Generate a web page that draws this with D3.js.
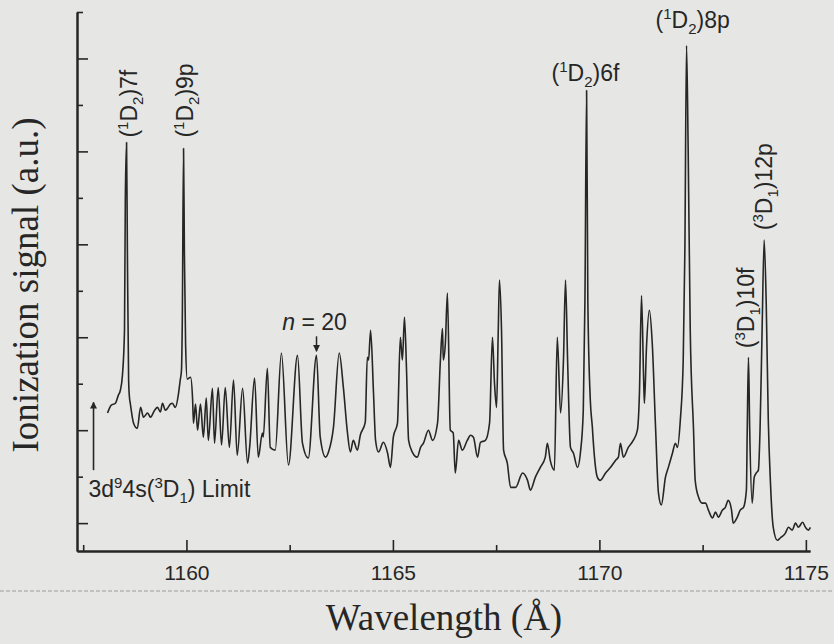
<!DOCTYPE html>
<html>
<head>
<meta charset="utf-8">
<script src="https://cdn.jsdelivr.net/npm/d3@7"></script>
<style>
  body { margin: 0; background: #e6e6e4; }
  svg { display: block; }
</style>
</head>
<body>
<div id="cht_Spectrum"></div>
<script>
// spectrum: wavelength (Å) and ionization signal (a.u.)
const wavelength = [
  1158.09, 1158.18, 1158.28, 1158.35, 1158.40, 1158.45, 1158.50, 1158.52, 1158.55, 1158.57,
  1158.60, 1158.62, 1158.64, 1158.72, 1158.81, 1158.89, 1158.96, 1159.06, 1159.13, 1159.23,
  1159.30, 1159.37, 1159.42, 1159.49, 1159.54, 1159.61, 1159.66, 1159.73, 1159.81, 1159.85,
  1159.88, 1159.90, 1159.93, 1159.95, 1159.98, 1160.02, 1160.10, 1160.15, 1160.17, 1160.22,
  1160.27, 1160.34, 1160.41, 1160.48, 1160.53, 1160.63, 1160.68, 1160.77, 1160.85, 1160.94,
  1161.04, 1161.14, 1161.23, 1161.36, 1161.48, 1161.53, 1161.65, 1161.74, 1161.84, 1161.86,
  1161.96, 1162.03, 1162.15, 1162.30, 1162.47, 1162.69, 1162.81, 1162.95, 1163.15, 1163.24,
  1163.37, 1163.44, 1163.56, 1163.70, 1163.80, 1163.90, 1163.97, 1164.04, 1164.14, 1164.21,
  1164.33, 1164.38, 1164.41, 1164.46, 1164.53, 1164.58, 1164.65, 1164.77, 1164.87, 1164.94,
  1165.01, 1165.11, 1165.18, 1165.23, 1165.28, 1165.33, 1165.38, 1165.47, 1165.59, 1165.67,
  1165.74, 1165.86, 1165.96, 1166.08, 1166.15, 1166.20, 1166.22, 1166.27, 1166.32, 1166.39,
  1166.46, 1166.51, 1166.59, 1166.68, 1166.80, 1166.88, 1166.95, 1167.05, 1167.12, 1167.24,
  1167.34, 1167.41, 1167.46, 1167.51, 1167.55, 1167.58, 1167.63, 1167.68, 1167.77, 1167.85,
  1167.97, 1168.14, 1168.26, 1168.33, 1168.45, 1168.57, 1168.69, 1168.74, 1168.81, 1168.91,
  1168.98, 1169.06, 1169.13, 1169.18, 1169.23, 1169.30, 1169.37, 1169.47, 1169.54, 1169.61,
  1169.65, 1169.69, 1169.72, 1169.78, 1169.83, 1169.85, 1169.95, 1170.02, 1170.15, 1170.27,
  1170.39, 1170.46, 1170.51, 1170.58, 1170.70, 1170.82, 1170.92, 1170.97, 1171.02, 1171.07,
  1171.09, 1171.14, 1171.21, 1171.28, 1171.36, 1171.43, 1171.50, 1171.60, 1171.67, 1171.77,
  1171.84, 1171.89, 1171.96, 1172.03, 1172.07, 1172.11, 1172.15, 1172.20, 1172.28, 1172.32,
  1172.40, 1172.49, 1172.57, 1172.64, 1172.74, 1172.81, 1172.88, 1172.98, 1173.05, 1173.12,
  1173.20, 1173.24, 1173.34, 1173.41, 1173.49, 1173.56, 1173.58, 1173.61, 1173.64, 1173.70,
  1173.75, 1173.80, 1173.85, 1173.89, 1173.94, 1173.99, 1174.04, 1174.09, 1174.14, 1174.21,
  1174.31, 1174.38, 1174.50, 1174.58, 1174.67, 1174.75, 1174.82, 1174.92, 1174.99, 1175.06,
  1175.11
];
const signal = [
  23.7, 25.4, 25.8, 27.5, 28.6, 31.8, 41.5, 69.5, 81.9, 58.7,
  30.8, 27.1, 25.8, 21.5, 20.4, 24.9, 22.8, 23.7, 22.8, 24.3,
  24.9, 23.9, 25.8, 24.3, 24.7, 25.6, 25.8, 24.9, 28.0, 30.8,
  32.9, 43.7, 80.6, 58.7, 38.3, 31.0, 31.4, 26.5, 21.5, 25.6,
  20.0, 25.6, 18.5, 26.9, 17.8, 29.0, 17.2, 29.2, 16.8, 29.2,
  16.3, 30.8, 14.6, 29.0, 12.9, 16.3, 31.2, 14.2, 19.4, 18.5,
  33.3, 16.3, 15.7, 36.6, 12.5, 36.1, 17.2, 14.0, 36.1, 18.5,
  14.2, 15.3, 20.6, 36.6, 29.2, 19.4, 15.3, 17.8, 15.7, 18.9,
  21.7, 35.7, 35.1, 41.5, 28.0, 17.8, 15.3, 17.4, 15.1, 12.0,
  18.5, 21.5, 40.0, 35.1, 44.3, 32.9, 17.8, 15.3, 14.2, 16.3,
  17.2, 20.0, 17.8, 21.5, 35.1, 41.9, 35.1, 38.7, 49.5, 20.0,
  19.4, 10.8, 17.8, 15.7, 17.8, 18.9, 18.5, 14.2, 17.4, 17.8,
  21.5, 40.0, 30.1, 24.9, 40.9, 52.3, 41.5, 15.7, 12.9, 7.7,
  7.7, 10.8, 9.2, 7.1, 9.9, 12.0, 14.2, 17.2, 13.5, 11.4,
  40.0, 23.7, 35.1, 52.3, 35.1, 16.3, 15.1, 12.0, 15.1, 24.3,
  48.0, 93.1, 48.0, 26.5, 20.6, 17.8, 9.9, 9.2, 10.8, 12.0,
  13.5, 14.2, 17.2, 14.2, 16.3, 17.8, 20.0, 28.0, 49.0, 31.4,
  25.8, 37.8, 45.8, 38.7, 20.6, 6.5, 3.9, 9.9, 12.0, 15.1,
  17.2, 16.3, 22.2, 35.1, 58.7, 102.8, 80.2, 41.5, 20.0, 9.2,
  5.6, 4.3, 4.3, 2.8, 1.1, 2.4, 1.3, 2.8, 3.4, 4.9,
  2.8, 0.0, 1.3, 2.8, 3.4, 7.1, 20.0, 35.7, 20.0, 4.3,
  9.9, 10.8, 11.4, 20.0, 41.5, 60.9, 47.3, 22.2, 9.2, -0.9,
  -3.7, -3.2, -2.2, -0.9, -1.5, 0.0, -0.9, 0.2, -0.9, -1.5,
  -0.9
];

const xTicksMajor = [1160, 1165, 1170, 1175];
const xTicksMinor = [1157.5, 1162.5, 1167.5, 1172.5];
const yTicksMajor = [0, 20, 40, 60, 80, 100];
const yTicksMinor = [10, 30, 50, 70, 90, 110];

// peak assignments: (core term)nl
const peakLambda = [1158.55, 1159.93, 1169.69, 1172.11, 1173.61, 1173.99];
const peakCoreS = ["1", "1", "1", "1", "3", "3"];
const peakCoreJ = ["2", "2", "2", "2", "1", "1"];
const peakOrbital = ["7f", "9p", "6f", "8p", "10f", "12p"];

const seriesMarkLambda = 1163.15; // n = 20
const limitLambda = 1157.75;

const width = 834, height = 644;

const svg = d3
  .select("#cht_Spectrum")
  .append("svg")
  .attr("width", width)
  .attr("height", height)
  .style("font-family", "'Liberation Sans', Arial, sans-serif");

const x = d3.scaleLinear().domain([1157.35, 1175.1]).range([77, 810]);
const y = d3.scaleLinear().domain([-6, 110]).range([551, 12]);

// faint fold line of the scanned page
svg
  .append("line")
  .attr("x1", 0)
  .attr("x2", width)
  .attr("y1", 591)
  .attr("y2", 591)
  .attr("stroke", "#9a9a9a")
  .attr("stroke-width", 1)
  .attr("stroke-dasharray", "4,2");

const ink = "#262626";

// x axis
const gx = svg.append("g").attr("transform", `translate(0,${y.range()[0]})`);
gx.call(
  d3.axisBottom(x).tickValues(xTicksMajor).tickSizeInner(-11).tickSizeOuter(0).tickPadding(14).tickFormat(d3.format("d"))
);
gx.append("g").call(
  d3.axisBottom(x).tickValues(xTicksMinor).tickSizeInner(-6).tickSizeOuter(0).tickFormat("")
);
gx.selectAll(".domain").attr("stroke", ink).attr("stroke-width", 2);
gx.selectAll(".tick line").attr("stroke", ink).attr("stroke-width", 1.6);
gx.selectAll(".tick text")
  .attr("fill", ink)
  .style("font-size", "21px")
  .style("font-family", "'Liberation Sans', Arial, sans-serif");

// y axis (no numbers, arbitrary units)
const gy = svg.append("g").attr("transform", `translate(${x.range()[0]},0)`);
gy.call(d3.axisLeft(y).tickValues(yTicksMajor).tickSizeInner(-11).tickSizeOuter(0).tickFormat(""));
gy.append("g").call(d3.axisLeft(y).tickValues(yTicksMinor).tickSizeInner(-6).tickSizeOuter(0).tickFormat(""));
gy.selectAll(".domain").attr("stroke", ink).attr("stroke-width", 2);
gy.selectAll(".tick line").attr("stroke", ink).attr("stroke-width", 1.6);

// spectrum trace
const points = wavelength.map((w, i) => [w, signal[i]]);
svg
  .append("path")
  .datum(points)
  .attr("fill", "none")
  .attr("stroke", ink)
  .attr("stroke-width", 1.6)
  .attr("stroke-linejoin", "round")
  .attr("d", d3.line().curve(d3.curveMonotoneX).x((d) => x(d[0])).y((d) => y(d[1])));

// text with super/subscripts: parts = [[text, "sup"|"sub"|undefined], ...]
function richText(sel, parts) {
  let shift = 0;
  parts.forEach(([t, k]) => {
    const target = k === "sup" ? -9 : k === "sub" ? 6 : 0;
    const ts = sel.append("tspan").attr("dy", target - shift).text(t);
    if (k) ts.style("font-size", "15px");
    shift = target;
  });
}

// label placement relative to peak top
const labelLayout = {
  "7f": { rot: true, dx: 10, dy: -5 },
  "9p": { rot: true, dx: 9, dy: -11 },
  "6f": { rot: false, dx: -35, dy: -10 },
  "8p": { rot: false, dx: -31, dy: -17 },
  "10f": { rot: true, dx: 6, dy: -9 },
  "12p": { rot: true, dx: 8, dy: -10 },
};

peakLambda.forEach((lam, i) => {
  // peak top from data near the assigned wavelength
  const near = points.filter((p) => Math.abs(p[0] - lam) < 0.04);
  const top = d3.max(near, (p) => p[1]);
  const lay = labelLayout[peakOrbital[i]];
  const px = x(lam) + lay.dx, py = y(top) + lay.dy;
  const t = svg
    .append("text")
    .attr("fill", ink)
    .style("font-size", "23px")
    .attr("transform", lay.rot ? `translate(${px},${py}) rotate(-90)` : `translate(${px},${py})`);
  richText(t, [["("], [peakCoreS[i], "sup"], ["D"], [peakCoreJ[i], "sub"], [")" + peakOrbital[i]]]);
});

// n = 20 marker
const nx = x(seriesMarkLambda);
const nt = svg
  .append("text")
  .attr("x", nx - 2)
  .attr("y", y(41.5))
  .attr("text-anchor", "middle")
  .attr("fill", ink)
  .style("font-size", "23px");
nt.append("tspan").style("font-style", "italic").text("n");
nt.append("tspan").text(" = 20");

svg
  .append("defs")
  .append("marker")
  .attr("id", "head")
  .attr("viewBox", "0 0 10 10")
  .attr("refX", 9)
  .attr("refY", 5)
  .attr("markerWidth", 7)
  .attr("markerHeight", 9)
  .attr("markerUnits", "userSpaceOnUse")
  .attr("orient", "auto")
  .append("path")
  .attr("d", "M0,0L10,5L0,10Z")
  .attr("fill", ink);

svg
  .append("line")
  .attr("x1", nx)
  .attr("x2", nx)
  .attr("y1", y(40.2))
  .attr("y2", y(37.0))
  .attr("stroke", ink)
  .attr("stroke-width", 1.5)
  .attr("marker-end", "url(#head)");

// series limit arrow
const lx = x(limitLambda);
svg
  .append("line")
  .attr("x1", lx)
  .attr("x2", lx)
  .attr("y1", y(11.4))
  .attr("y2", y(26.0))
  .attr("stroke", ink)
  .attr("stroke-width", 1.6)
  .attr("marker-end", "url(#head)");

const lt = svg
  .append("text")
  .attr("x", lx - 5)
  .attr("y", y(5.6))
  .attr("fill", ink)
  .style("font-size", "23px");
richText(lt, [["3d"], ["9", "sup"], ["4s("], ["3", "sup"], ["D"], ["1", "sub"], [") Limit"]]);

// axis titles
svg
  .append("text")
  .attr("x", 444)
  .attr("y", 630)
  .attr("text-anchor", "middle")
  .attr("fill", ink)
  .style("font-family", "'Liberation Serif', 'Times New Roman', serif")
  .style("font-size", "37px")
  .text("Wavelength (Å)");

svg
  .append("text")
  .attr("transform", "translate(38,285) rotate(-90)")
  .attr("text-anchor", "middle")
  .attr("fill", ink)
  .style("font-family", "'Liberation Serif', 'Times New Roman', serif")
  .style("font-size", "37px")
  .text("Ionization signal (a.u.)");
</script>
</body>
</html>
